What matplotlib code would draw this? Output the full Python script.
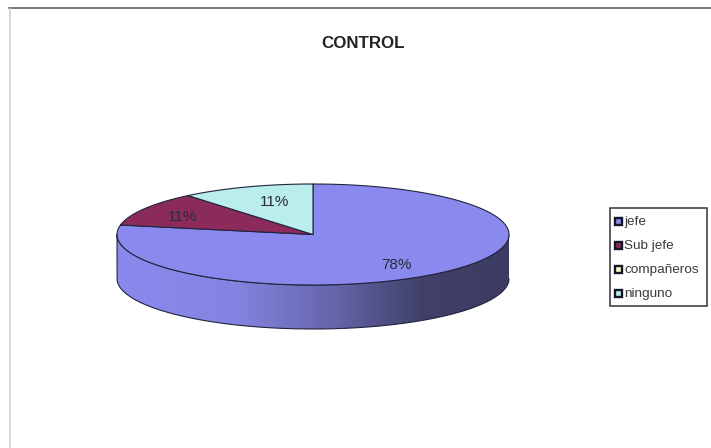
import numpy as np
import matplotlib
matplotlib.use("Agg")
import matplotlib.pyplot as plt
from matplotlib.colors import LinearSegmentedColormap
from matplotlib.patches import PathPatch, Rectangle
from matplotlib.path import Path

plt.rcParams['font.family'] = ['Liberation Sans', 'DejaVu Sans']

title = "CONTROL"
categories = ["jefe", "Sub jefe", "compañeros", "ninguno"]
values = [78, 11, 0, 11]
colors = ["#8a8aee", "#8b2b5b", "#fdfdc8", "#b9eeec"]

# pie geometry in pixels
cx, cy = 313, 234.5
rx, ry = 196, 50.5
depth = 44
edge = "#23233f"

fig = plt.figure(figsize=(7.11, 4.48), dpi=100)
ax = fig.add_axes([0, 0, 1, 1])
ax.set_xlim(0, 711)
ax.set_ylim(448, 0)
ax.axis("off")

# sheet border, only top and left are visible
ax.plot([9, 711], [8.5, 8.5], color="#555555", lw=1.1)
ax.plot([9.5, 9.5], [9, 448], color="#d0d0d0", lw=1.1)


def rim(a0, a1, n=200):
    # angles run clockwise from twelve o'clock
    t = np.radians(np.linspace(a0, a1, n))
    return cx + rx * np.sin(t), cy - ry * np.cos(t)


# side wall with a horizontal shading
xs, ys = rim(90, 270)
side_x = np.concatenate([xs, xs[::-1]])
side_y = np.concatenate([ys, ys[::-1] + depth])
shade = LinearSegmentedColormap.from_list(
    "wall", [(0, "#8a8aee"), (0.3, "#8484e2"), (0.55, "#6666ac"), (0.78, "#40406a"), (1, "#3c3c62")])
img = ax.imshow(np.linspace(0, 1, 256)[None, :], cmap=shade, aspect="auto",
                extent=[cx - rx, cx + rx, cy + ry + depth, cy - ry], zorder=2)
wall = PathPatch(Path(np.column_stack([side_x, side_y])), fc="none", ec=edge, lw=0.8,
                 joinstyle="round", zorder=3)
ax.add_patch(wall)
img.set_clip_path(wall)
ax.set_xlim(0, 711)
ax.set_ylim(448, 0)

# top face slices
start = 0
total = sum(values)
for value, color in zip(values, colors):
    sweep = 360 * value / total
    if value > 0:
        xa, ya = rim(start, start + sweep)
        ax.fill(np.r_[cx, xa], np.r_[cy, ya], facecolor=color, edgecolor=edge, lw=0.8,
                joinstyle="round", zorder=4)
    start += sweep

# percentage labels
label_style = dict(ha="center", va="center", fontsize=11, color="#2a2a3a", zorder=5)
ax.text(396, 265, "78%", **label_style)
ax.text(183, 217, "11%", **label_style)
ax.text(275, 202, "11%", **label_style)

ax.text(363.5, 43, title, ha="center", va="center", fontsize=12.2, fontweight="bold", color="#222222")

# legend
ax.add_patch(Rectangle((610, 208.5), 96.5, 97.5, fc="white", ec="#333333", lw=1.1, zorder=5))
legend_y = [222, 246, 270, 294]
for name, color, y in zip(categories, colors, legend_y):
    ax.add_patch(Rectangle((614.5, y - 3.5), 7, 7, fc=color, ec="#15152a", lw=1.7, zorder=6))
    ax.text(624, y, name, ha="left", va="center", fontsize=9.7, color="#3a3a3a", zorder=6)

fig.savefig("out.png", dpi=100)
